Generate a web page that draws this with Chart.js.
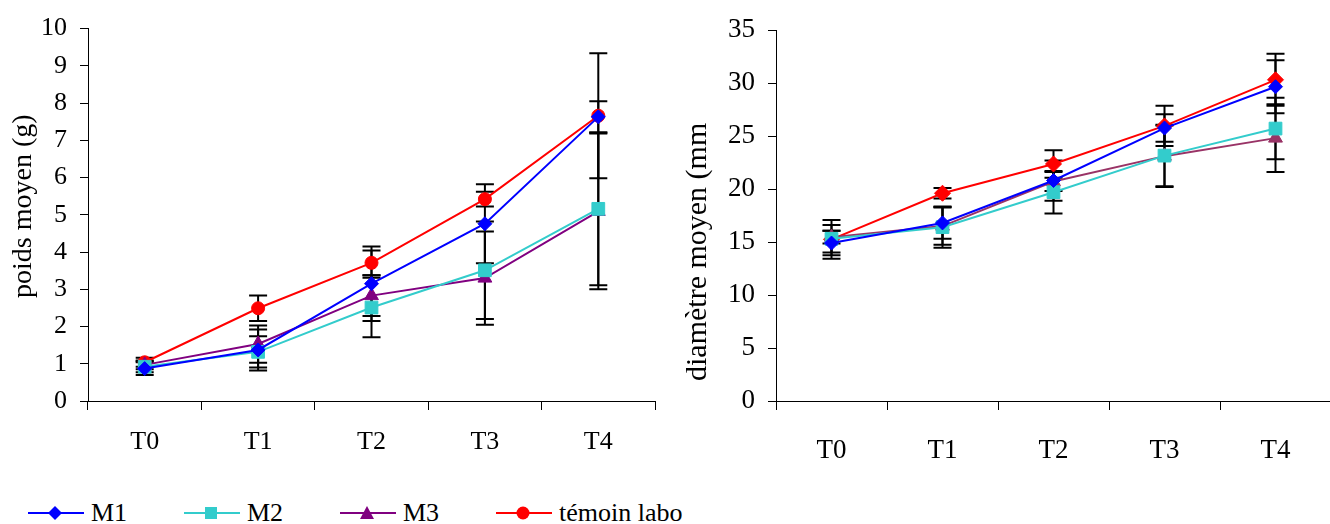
<!DOCTYPE html>
<html>
<head>
<meta charset="utf-8">
<script src="https://cdn.jsdelivr.net/npm/chart.js@4/dist/chart.umd.min.js"></script>
<style>
body { margin:0; background:#fff; width:1330px; height:524px; overflow:hidden; position:relative; font-family:"Liberation Serif", "Times New Roman", serif; }
#left { position:absolute; left:0; top:0; }
#right { position:absolute; left:665px; top:0; }
#legend { position:absolute; top:498px; left:28px; height:30px; display:flex; }
.item { width:156px; display:flex; align-items:center; font-size:26px; color:#000; white-space:nowrap; }
.item svg { margin-right:7px; flex:none; }
</style>
</head>
<body>
<canvas id="left" width="665" height="470"></canvas>
<canvas id="right" width="676" height="470"></canvas>
<div id="legend"></div>
<script>
// categories
var temps = ['T0', 'T1', 'T2', 'T3', 'T4'];

// poids moyen (g) + ecart-types
var poidsM1 = [0.87, 1.37, 3.15, 4.76, 7.63];
var poidsM2 = [0.92, 1.32, 2.51, 3.51, 5.16];
var poidsM3 = [0.97, 1.53, 2.83, 3.30, 5.09];
var poidsTemoin = [1.04, 2.49, 3.71, 5.42, 7.66];
var sdPoidsM1 = [0.17, 0.55, 1.00, 1.06, 0.42];
var sdPoidsM2 = [0.15, 0.42, 0.80, 1.31, 2.05];
var sdPoidsM3 = [0.12, 0.50, 0.55, 1.25, 2.09];
var sdPoidsTemoin = [0.12, 0.34, 0.33, 0.20, 1.68];

// diametre moyen (mm) + ecart-types
var diamM1 = [14.9, 16.8, 20.8, 25.75, 29.65];
var diamM2 = [15.3, 16.4, 19.7, 23.15, 25.7];
var diamM3 = [15.45, 16.5, 20.7, 23.1, 24.8];
var diamTemoin = [15.25, 19.6, 22.36, 25.95, 30.3];
var sdDiamM1 = [1.15, 1.5, 1.9, 1.3, 2.5];
var sdDiamM2 = [1.3, 1.95, 2.0, 2.9, 2.9];
var sdDiamM3 = [0.6, 1.75, 0.9, 2.9, 3.2];
var sdDiamTemoin = [1.83, 0.5, 1.3, 1.9, 2.45];

var seriesNames = ['M1', 'M2', 'M3', 'témoin labo'];

var FONT = '"Liberation Serif", "Times New Roman", serif';

// Draws the black error bars under the markers
var errorBars = {
	id: 'errorBars',
	beforeDatasetsDraw: function(chart) {
		var ctx = chart.ctx;
		var yScale = chart.scales.y;
		ctx.save();
		ctx.strokeStyle = '#000';
		ctx.lineWidth = 2;
		chart.data.datasets.forEach(function(ds, i) {
			var meta = chart.getDatasetMeta(i);
			meta.data.forEach(function(pt, j) {
				var top = yScale.getPixelForValue(ds.data[j] + ds.sd[j]);
				var bot = yScale.getPixelForValue(ds.data[j] - ds.sd[j]);
				ctx.beginPath();
				ctx.moveTo(pt.x, top); ctx.lineTo(pt.x, bot);
				ctx.moveTo(pt.x - 9, top); ctx.lineTo(pt.x + 9, top);
				ctx.moveTo(pt.x - 9, bot); ctx.lineTo(pt.x + 9, bot);
				ctx.stroke();
			});
		});
		ctx.restore();
	}
};

// Rotated y title, written from its bottom end
var sideTitle = {
	id: 'sideTitle',
	afterDraw: function(chart, args, opts) {
		var ctx = chart.ctx;
		ctx.save();
		ctx.translate(opts.x, opts.y);
		ctx.rotate(-Math.PI / 2);
		ctx.font = opts.size + 'px ' + FONT;
		ctx.fillStyle = '#000';
		ctx.textAlign = 'left';
		ctx.textBaseline = 'middle';
		ctx.fillText(opts.text, 0, 0);
		ctx.restore();
	}
};

function serie(label, data, sd, color, style, radius) {
	return {
		label: label, data: data, sd: sd,
		borderColor: color, backgroundColor: color,
		borderWidth: 2, tension: 0,
		pointStyle: style, pointRadius: radius, pointBorderWidth: 1,
		pointBackgroundColor: color, pointBorderColor: color
	};
}

function makeChart(id, datasets, max, step, top, yWidth, labelPad, tickSize, title) {
	var ctx = document.getElementById(id).getContext('2d');
	return new Chart(ctx, {
		type: 'line',
		data: { labels: temps, datasets: datasets },
		plugins: [errorBars, sideTitle],
		options: {
			responsive: false,
			animation: false,
			devicePixelRatio: 1,
			layout: { padding: { top: top, right: 0, bottom: 0, left: 0 } },
			plugins: { legend: { display: false }, tooltip: { enabled: false }, sideTitle: title },
			scales: {
				x: {
					offset: true,
					grid: { offset: true, drawOnChartArea: false, drawTicks: true, tickLength: 9, color: '#000' },
					border: { display: true, color: '#000', width: 1 },
					ticks: { color: '#000', padding: labelPad, font: { family: FONT, size: tickSize } },
					afterFit: function(s) { s.height = 69; }
				},
				y: {
					min: 0, max: max,
					grid: { drawOnChartArea: false, drawTicks: true, tickLength: 8, color: '#000' },
					border: { display: true, color: '#000', width: 1 },
					ticks: { stepSize: step, color: '#000', padding: 13, font: { family: FONT, size: tickSize } },
					afterFit: function(s) { s.width = yWidth; }
				}
			}
		}
	});
}

makeChart('left', [
	serie('M1', poidsM1, sdPoidsM1, '#0000ff', 'rectRot', 7),
	serie('M2', poidsM2, sdPoidsM2, '#33cccc', 'rect', 9),
	serie('M3', poidsM3, sdPoidsM3, '#800080', 'triangle', 8),
	serie('témoin labo', poidsTemoin, sdPoidsTemoin, '#ff0000', 'circle', 6.5)
], 10, 1, 26, 88, 17, 26, { text: 'poids moyen (g)', size: 28, x: 24, y: 298 });

makeChart('right', [
	serie('M1', diamM1, sdDiamM1, '#0000ff', 'rectRot', 7),
	serie('M2', diamM2, sdDiamM2, '#33cccc', 'rect', 9),
	serie('M3', diamM3, sdDiamM3, '#993366', 'triangle', 8),
	serie('témoin labo', diamTemoin, sdDiamTemoin, '#ff0000', 'rectRot', 8)
], 35, 5, 30, 111, 25, 27, { text: 'diamètre moyen (mm', size: 30, x: 33, y: 381 });

// html legend below both charts
var legendColors = ['#0000ff', '#33cccc', '#800080', '#ff0000'];
var legendMarks = [
	'<polygon points="27,3 34,10 27,17 20,10"/>',
	'<rect x="21" y="4" width="12" height="12"/>',
	'<polygon points="27,3 34,16 20,16"/>',
	'<circle cx="27" cy="10" r="6.5"/>'
];
var legend = document.getElementById('legend');
seriesNames.forEach(function(name, i) {
	var c = legendColors[i];
	var item = document.createElement('div');
	item.className = 'item';
	item.innerHTML = '<svg width="56" height="20"><line x1="0" y1="10" x2="56" y2="10" stroke="' + c + '" stroke-width="2"/>' +
		'<g fill="' + c + '">' + legendMarks[i] + '</g></svg><span>' + name + '</span>';
	legend.appendChild(item);
});
</script>
</body>
</html>
